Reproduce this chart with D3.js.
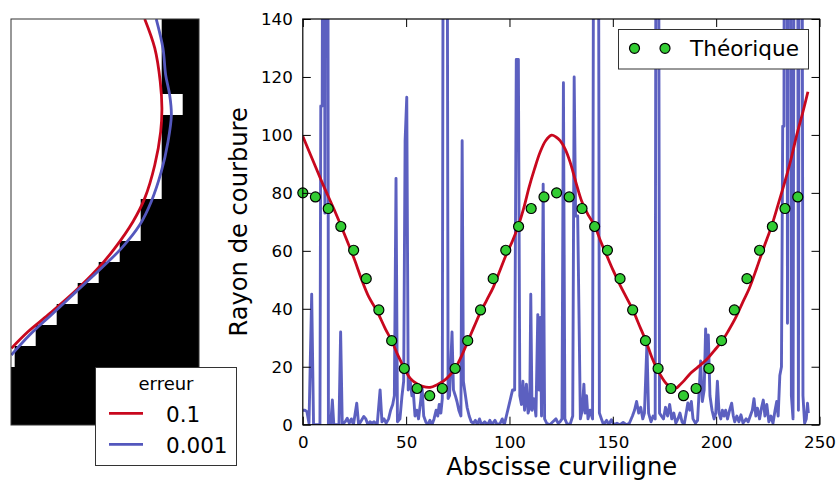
<!DOCTYPE html>
<html><head><meta charset="utf-8">
<script src="https://cdn.jsdelivr.net/npm/d3@7"></script>
<style>
html,body{margin:0;padding:0;background:#fff;}
svg{display:block;font-family:"DejaVu Sans",sans-serif;}
</style></head>
<body>
<svg id="chart" width="839" height="485"></svg>
<script>
// ---------- Right panel data ----------
const xTicks = [0, 50, 100, 150, 200, 250];
const yTicks = [0, 20, 40, 60, 80, 100, 120, 140];

// measured radius of curvature, error 0.001 (blue, noisy)
const blueX = [0,1,2,3,4.3,5.2,8.3,8.7,9.4,9.9,10.3,10.7,11.2,12.0,12.4,13.5,14.3,15.0,17.5,18.3,19.1,20.5,21.5,22.5,23.5,24.5,26.1,27,28,29.5,30.5,31.5,32.5,33.5,34.5,36,37.4,38.3,39.3,40.3,41.5,42.5,43.5,44.3,45.1,45.8,47,48,48.8,49.5,50.3,51,52,52.8,53.5,54.3,55.2,56,57,57.7,58.5,59.5,60.5,61.5,62.5,63.5,64.5,65.3,66,66.8,67.5,68.2,69.6,70.3,71,72.2,72.9,73.8,74.6,75.5,76.5,77.1,77.7,78.5,79.5,80.5,81.5,82.5,83.5,84.5,85.5,86.5,88,89.5,90.5,91.5,93,94,95.5,96.5,97.5,98.5,99.5,100.5,101.5,102.5,103.3,104.3,105,105.8,106.5,107.3,108.2,109,109.8,110.3,110.9,111.8,112.8,113.7,114.3,114.9,115.5,116.3,117,118,119.5,121,122.5,123.5,124.5,125.4,126.1,126.8,128,129.5,130.6,131.3,132,133,133.6,134.3,135.2,136,136.6,137.3,138,139,140.2,141,142.8,143.5,144.5,145.5,147,148,149.3,150.5,152,153.5,155,156.5,158,159.5,160.5,161.5,162.5,163.5,164.5,165.3,166.5,167.3,168.5,169.5,170.5,171.1,171.9,172.6,173.5,174.5,175.5,176.5,177.5,178.5,179.5,180.5,181.5,182.5,183.5,184.5,185.5,186.3,187.2,188,188.8,190,191,191.8,192.5,193.3,194.2,194.9,195.5,196.2,197,198,199,199.8,200.6,201.4,202.2,203,203.8,204.6,205.5,206.5,207.5,208.3,209,210,211,212,213,214.5,215.5,216.5,217.5,218.3,219.2,220,221,222,222.8,223.6,224.5,225.5,226.5,227.5,228.5,229.3,230,230.8,231.6,232.2,232.8,233.2,234.2,234.5,235,235.8,236.4,237.2,238,239.2,239.8,240.4,241.3,242,242.8,243.6,244.2,244.6];
const blueY = [5,5,4.5,0.5,45,0,0,110,110,300,300,73,300,300,0,0,8.5,0,0,32,0,1,2.2,0.5,2,0,7.4,0,1,2.8,2,0,1,0.5,1,0,12,1,2,0.5,2,5,7,10,85,1,2,10,15,98,113,12,15,10,11,3,5,2,8,13,3,1,0,1.5,0,2,5,3,7,4,9,300,300,9,10,32,12,10,8,5,3,98,15,11,6,3,1,0.5,1.5,0,2,0,1,0,1.5,0,1.5,0,0.5,2,0,3,6,9,12,12,126,126,10,7,15,5,14,4,6,45,5,9,3,38,12,37,3,83,2,0.5,0,1,2,0.5,1,2,118,2,0,0.5,3,120,72,72,40,2,5,14,4,10,2,5,2,300,300,4,2,0,1.5,0,1.7,0,0.5,0,0.8,0,0.5,3,5,8,4,6,2,4,28,4,1,3,2,300,300,4,3,2,6,3,7,2,4,0.5,2,4,1,0,4,7.5,5,8,2,0.5,1.5,12,22,8,12,33,20,31,10,5,2,4,15,4,2,5,3,5,2,5,7.4,3,1,3,1,3.4,0.5,2,1,3,5,9,3,5.7,2,6,8.5,3,7,1,3,0.5,5,8,3,17,20,103,103,300,300,35,300,300,10,2,300,300,5,300,300,10,0.5,2,7.4,4];

// measured radius of curvature, error 0.1 (red, smooth)
const redX = [0,5,10,15,20,25,28.3,32,35.7,40,43,46,49.1,52,55,58,61.6,65,68,71,73.8,77,80,83,85.7,89,92.2,95,98.3,101.5,104.3,107,109.5,112,114.8,117.5,120.4,122.5,124.5,127,129.3,132,135,138,141.2,144,147,150,153.5,156.5,159.6,163,166,169,171.2,174,176.1,178.3,180.5,182.5,184.5,187.5,191,195.4,199,202.7,206,209.5,213,216,219.6,223,226.9,230,233.3,236,239,242,244.4];
const redY = [99.5,91,82.5,74.5,66,57,50.4,44,39.5,33,29,24,19.5,16,14.2,13.2,12.9,13.8,15,17,19.5,24,29,34,38.4,43,47.5,52.5,58.5,63.5,68.7,75,82,88,94,98,99.9,99.3,98,95,90.7,84,77,72.5,68.7,63.5,58.5,53.5,48.2,44,39.7,34,28.9,23,19.5,16,14,13.2,12.6,13.8,15.2,17.7,19.8,22.5,25.5,28.7,32.5,37,42.5,47,54,61,68.7,76,84,91,100,108,114.9];

// theoretical radius of curvature (green dots)
const theoX = [0,6.1,12.3,18.4,24.6,30.7,36.8,43.0,49.1,55.3,61.4,67.5,73.7,79.8,86.0,92.1,98.2,104.4,110.5,116.7,122.8,128.9,135.1,141.2,147.4,153.5,159.6,165.8,171.9,178.1,184.2,190.3,196.5,202.6,208.8,214.9,221.0,227.2,233.3,239.5];
const theoY = [80,78.6,74.6,68.4,60.2,50.4,39.6,29,19.4,12.5,10,12.5,19.4,29,39.6,50.4,60.2,68.4,74.6,78.6,80,78.6,74.6,68.4,60.2,50.4,39.6,29,19.4,12.5,10,12.5,19.4,29,39.6,50.4,60.2,68.4,74.6,78.6];

// ---------- Left panel data (image pixel units) ----------
const imgCols = [-1,0,1,2,3,4,5,6,7,8];
const imgRows = [-4,-3,-2,-1,0,1,2,3,4,5,6,7,8,9,10,11,12,13,14,15];
const imgPixels = [
 "1111111100","1111111100","1111111100","1111111100",
 "1111111110",
 "1111111100","1111111100","1111111100","1111111100",
 "1111111000","1111111000",
 "1111110000","1111100000","1111000000","1110000000","1100000000","1000000000",
 "0000000000","0000000000","0000000000"];
const contourRedX = [6.19,6.67,6.93,7.01,6.95,6.67,6.19,5.63,4.76,3.97,2.86,1.59,0.63,-0.16];
const contourRedY = [-3.57,-2.18,-0.59,0.68,1.80,3.38,4.97,6.08,7.35,8.30,9.41,10.52,11.32,12.11];
const contourBlueX = [6.74,7.06,7.19,7.38,7.46,7.30,6.98,6.50,5.95,5.08,4.12,2.93,1.74,0.71,-0.16];
const contourBlueY = [-3.57,-2.18,-0.90,0.05,1.00,2.27,3.70,5.13,6.24,7.35,8.30,9.41,10.52,11.48,12.43];
const legendLabels = ["0.1", "0.001"];

const RED = "#c8081e", BLUE = "#5357bd", GREEN = "#33cc33";

const svg = d3.select("#chart");

// ================= LEFT PANEL =================
const L = {left: 11, right: 199, top: 19, bottom: 425};
const gx = d3.scaleLinear().domain([-0.176, 8.776]).range([L.left, L.right]);
const gy = d3.scaleLinear().domain([-3.571, 15.762]).range([L.top, L.bottom]);

svg.append("clipPath").attr("id", "clipL").append("rect")
  .attr("x", L.left).attr("y", L.top).attr("width", L.right - L.left).attr("height", L.bottom - L.top);

const gL = svg.append("g").attr("clip-path", "url(#clipL)");
const cells = [];
imgRows.forEach((r, i) => imgCols.forEach((c, j) => cells.push({r, c, v: imgPixels[i][j]})));
gL.selectAll("rect.px").data(cells).join("rect").attr("class", "px")
  .attr("x", d => gx(d.c)).attr("y", d => gy(d.r))
  .attr("width", gx(1) - gx(0) + 0.5).attr("height", gy(1) - gy(0) + 0.5)
  .attr("fill", d => d.v === "1" ? "#ffffff" : "#000000");

const cLine = d3.line().x(d => gx(d[0])).y(d => gy(d[1])).curve(d3.curveCatmullRom.alpha(0.5));
gL.append("path").attr("d", cLine(d3.zip(contourRedX, contourRedY)))
  .attr("fill", "none").attr("stroke", RED).attr("stroke-width", 2.8);
gL.append("path").attr("d", cLine(d3.zip(contourBlueX, contourBlueY)))
  .attr("fill", "none").attr("stroke", BLUE).attr("stroke-width", 2.8);

svg.append("rect").attr("x", L.left).attr("y", L.top).attr("width", L.right - L.left).attr("height", L.bottom - L.top)
  .attr("fill", "none").attr("stroke", "#333").attr("stroke-width", 1);

// left legend
const lg = svg.append("g");
lg.append("rect").attr("x", 95.5).attr("y", 367.5).attr("width", 141).attr("height", 98)
  .attr("fill", "#fff").attr("stroke", "#333").attr("stroke-width", 1);
lg.append("text").attr("x", 166).attr("y", 390).attr("text-anchor", "middle")
  .attr("font-size", 18).text("erreur");
[RED, BLUE].forEach((col, i) => {
  const yy = 413.3 + i * 31;
  lg.append("line").attr("x1", 109).attr("x2", 143).attr("y1", yy).attr("y2", yy)
    .attr("stroke", col).attr("stroke-width", 2.8);
  lg.append("text").attr("x", 166).attr("y", yy + 8.2).attr("font-size", 21.5).text(legendLabels[i]);
});

// ================= RIGHT PANEL =================
const R = {left: 302.8, right: 819.5, top: 19, bottom: 424.7};
const x = d3.scaleLinear().domain([0, 250]).range([R.left, R.right]);
const y = d3.scaleLinear().domain([0, 140]).range([R.bottom, R.top]);

svg.append("clipPath").attr("id", "clipR").append("rect")
  .attr("x", R.left).attr("y", R.top).attr("width", R.right - R.left).attr("height", R.bottom - R.top);

const gR = svg.append("g").attr("clip-path", "url(#clipR)");
const line = d3.line().x(d => x(d[0])).y(d => y(d[1]));
gR.append("path").attr("d", line(d3.zip(blueX, blueY)))
  .attr("fill", "none").attr("stroke", BLUE).attr("stroke-width", 2.9).attr("stroke-linejoin", "round")
  .attr("opacity", 0.95);
gR.append("path").attr("d", line.curve(d3.curveCatmullRom.alpha(0.5))(d3.zip(redX, redY)))
  .attr("fill", "none").attr("stroke", RED).attr("stroke-width", 2.8);
svg.append("g").selectAll("circle").data(d3.zip(theoX, theoY)).join("circle")
  .attr("cx", d => x(d[0])).attr("cy", d => y(d[1])).attr("r", 5)
  .attr("fill", GREEN).attr("stroke", "#000").attr("stroke-width", 1.2);

// axes (ticks inward on all sides)
const fmt = d3.format("d");
const axB = svg.append("g").attr("transform", `translate(0,${R.bottom})`)
  .call(d3.axisBottom(x).tickValues(xTicks).tickSizeInner(-8).tickSizeOuter(0).tickPadding(11).tickFormat(fmt));
const axT = svg.append("g").attr("transform", `translate(0,${R.top})`)
  .call(d3.axisTop(x).tickValues(xTicks).tickSizeInner(-8).tickSizeOuter(0).tickFormat(""));
const axL = svg.append("g").attr("transform", `translate(${R.left},0)`)
  .call(d3.axisLeft(y).tickValues(yTicks).tickSizeInner(-8).tickSizeOuter(0).tickPadding(10).tickFormat(fmt));
const axR = svg.append("g").attr("transform", `translate(${R.right},0)`)
  .call(d3.axisRight(y).tickValues(yTicks).tickSizeInner(-8).tickSizeOuter(0).tickFormat(""));
[axB, axT, axL, axR].forEach(a => {
  a.select(".domain").remove();
  a.selectAll("line").attr("stroke", "#000").attr("stroke-width", 1);
  a.selectAll("text").attr("font-family", "DejaVu Sans").attr("font-size", 16.7).attr("fill", "#000");
});
svg.append("rect").attr("x", R.left).attr("y", R.top).attr("width", R.right - R.left).attr("height", R.bottom - R.top)
  .attr("fill", "none").attr("stroke", "#000").attr("stroke-width", 1.2);

// axis titles
svg.append("text").attr("x", 561.7).attr("y", 475).attr("text-anchor", "middle")
  .attr("font-size", 24.2).text("Abscisse curviligne");
svg.append("text").attr("transform", `translate(247,${(R.top + R.bottom) / 2}) rotate(-90)`)
  .attr("text-anchor", "middle").attr("font-size", 24.2).text("Rayon de courbure");

// right legend
const rg = svg.append("g");
rg.append("rect").attr("x", 618.5).attr("y", 29.5).attr("width", 190).attr("height", 39.5)
  .attr("fill", "#fff").attr("stroke", "#333").attr("stroke-width", 1);
[634.5, 665].forEach(cx => rg.append("circle").attr("cx", cx).attr("cy", 48.3).attr("r", 5)
  .attr("fill", GREEN).attr("stroke", "#000").attr("stroke-width", 1.2));
rg.append("text").attr("x", 690).attr("y", 55.5).attr("font-size", 21.6).text("Théorique");
</script>
</body></html>
